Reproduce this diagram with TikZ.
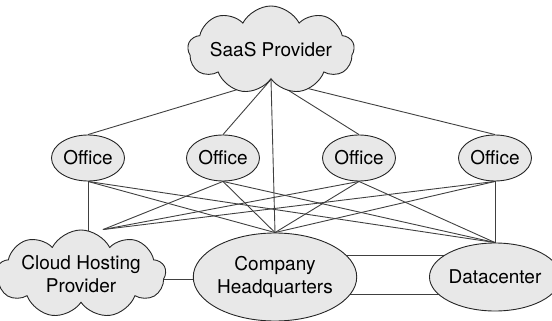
\documentclass[tikz,border=0pt]{standalone}
\usepackage{fontspec}
\setmainfont{TeX Gyre Heros}
\usetikzlibrary{shapes,backgrounds}
\tikzset{cloudblk/.style={
    cloud,cloud puffs=9,cloud puff arc=125,cloud ignores aspect,
    draw=black!85,fill=black!9,line width=0.9pt,
    inner sep=0pt,align=center,
    font=\fontsize{19}{23}\selectfont}
}
\tikzset{siteblk/.style={
    ellipse,inner sep=0pt,
    draw=black!85,fill=black!9,line width=0.9pt,
    align=center,
    font=\fontsize{19}{23}\selectfont}
}
\tikzset{link/.style={draw=black!75,line width=0.9pt}}

\begin{document}
\begin{tikzpicture}[x=1pt,y=-1pt]
  \useasboundingbox (0,0) rectangle (552,321);
  % top
  \node (saas) [cloudblk,minimum width=150pt,minimum height=88pt] at (271,50) {SaaS Provider};
  % offices
  \foreach \i/\x in {1/88,2/223,3/359,4/495}
    \node (off\i) [siteblk,minimum width=73pt,minimum height=46pt] at (\x,158) {Office};
  % bottom row
  \node (chp) [cloudblk,minimum width=153pt,minimum height=88pt] at (81,274) {Cloud Hosting\\Provider};
  \node (hq) [siteblk,minimum width=162pt,minimum height=88pt] at (275,277) {Company\\Headquarters};
  \node (dc) [siteblk,minimum width=112pt,minimum height=68pt] at (495,277) {Datacenter};
  \begin{scope}[on background layer]
    \foreach \i in {1,...,4}
      \draw[link] (saas.south) -- (off\i.north);
    \draw[link] (saas.south) -- (hq.north);
    \foreach \i in {1,...,4} {
      \draw[link] (off\i.south) -- (hq.north);
      \draw[link] (off\i.south) -- (dc.north);
    }
    \foreach \i in {2,3,4}
      \draw[link] (off\i.south) -- ([xshift=22pt]chp.north);
    \draw[link] (off1.south) -- (off1.south |- chp.center);
    \draw[link] ([yshift=-5pt]chp.center) -- ([yshift=-5pt]chp.center -| hq.center);
    \draw[link] ([yshift=22pt]hq.center) -- ([yshift=22pt]hq.center -| dc.center);
    \draw[link] ([yshift=-17pt]hq.center) -- ([yshift=-17pt]hq.center -| dc.center);
  \end{scope}
\end{tikzpicture}
\end{document}
